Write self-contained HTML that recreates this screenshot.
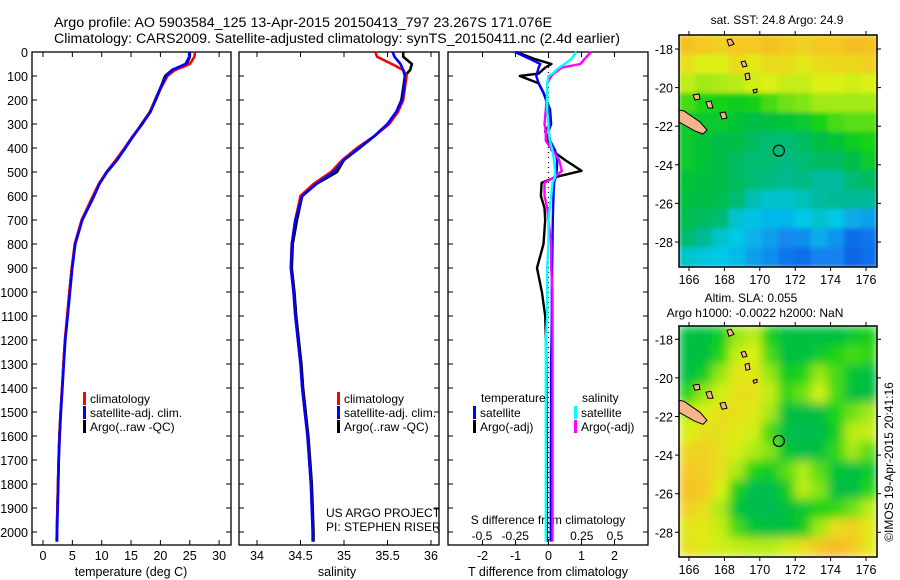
<!DOCTYPE html>
<html><head><meta charset="utf-8">
<style>
html,body{margin:0;padding:0;background:#fff;}
svg{display:block;font-family:"Liberation Sans",sans-serif;}
text{fill:#000;}
</style></head>
<body>
<svg id="fig" width="900" height="580" viewBox="0 0 900 580" xmlns="http://www.w3.org/2000/svg">
<defs>
  <filter id="blur1" x="0" y="0" width="1" height="1"><feGaussianBlur stdDeviation="2" edgeMode="duplicate"/></filter>
  <filter id="blur2" x="0" y="0" width="1" height="1"><feGaussianBlur stdDeviation="5" edgeMode="duplicate"/></filter>
  <clipPath id="clipM1"><rect x="679" y="35" width="198" height="232"/></clipPath>
  <clipPath id="clipM2"><rect x="679" y="326" width="198" height="231"/></clipPath>
</defs>
<text x="54" y="27" font-size="13.5" textLength="498" lengthAdjust="spacingAndGlyphs">Argo profile: AO 5903584_125 13-Apr-2015 20150413_797 23.267S 171.076E</text>
<text x="54" y="43" font-size="13.5" textLength="566" lengthAdjust="spacingAndGlyphs">Climatology: CARS2009. Satellite-adjusted climatology: synTS_20150411.nc (2.4d earlier)</text>
<g id="plots"></g>
</svg>
<script>
// ---------- profile data ----------
const depths = [0,20,50,75,100,150,200,250,300,350,400,450,500,550,600,700,800,900,1000,1100,1200,1300,1400,1500,1600,1700,1800,1900,2000,2040];
const argoT = [25.0,25.0,24.5,22.0,20.8,20.0,19.1,18.2,16.8,15.4,14.0,12.6,10.9,9.5,8.6,6.6,5.45,4.9,4.5,4.15,3.75,3.5,3.25,3.0,2.8,2.65,2.55,2.45,2.35,2.35];
const climT = [25.9,25.8,25.0,22.5,21.2,20.1,19.2,18.2,16.9,15.3,13.9,12.4,10.8,9.5,8.5,6.6,5.4,4.9,4.5,4.1,3.75,3.5,3.25,3.0,2.8,2.65,2.55,2.45,2.35,2.3];
const satT = [24.9,24.9,24.3,22.0,21.0,20.0,19.2,18.3,16.9,15.4,14.0,12.6,10.9,9.6,8.7,6.7,5.5,5.0,4.6,4.2,3.8,3.55,3.3,3.05,2.85,2.7,2.6,2.5,2.4,2.4];
const argoS = [35.68,35.68,35.78,35.76,35.70,35.68,35.66,35.60,35.50,35.35,35.18,35.00,34.92,34.68,34.52,34.46,34.41,34.40,34.43,34.45,34.48,34.51,34.53,34.56,34.59,34.61,34.63,34.64,34.65,34.65];
const climS = [35.36,35.38,35.55,35.68,35.72,35.70,35.68,35.62,35.52,35.35,35.15,34.98,34.85,34.65,34.50,34.44,34.40,34.39,34.42,34.44,34.47,34.50,34.52,34.55,34.58,34.60,34.62,34.63,34.64,34.64];
const satS = [35.56,35.58,35.65,35.68,35.70,35.69,35.67,35.60,35.50,35.35,35.17,35.00,34.88,34.68,34.52,34.44,34.40,34.39,34.42,34.44,34.47,34.50,34.52,34.55,34.58,34.60,34.62,34.63,34.64,34.64];
// ---------- difference data ----------
const diffDepth = [0,30,50,65,90,100,130,170,240,300,330,370,410,450,495,520,545,600,650,700,800,900,1000,1100,1200,1300,1500,1700,1900,2040];
const argoTd = [-0.97,-0.4,0.09,-0.1,-0.3,-0.87,-0.3,-0.15,0.03,0.05,-0.1,0.0,0.1,0.5,1.0,0.24,-0.21,-0.23,-0.12,-0.1,-0.15,-0.35,-0.2,-0.1,-0.08,-0.07,-0.06,-0.05,-0.05,-0.05];
const satTd = [-1.02,-0.55,-0.25,-0.3,-0.35,-0.37,-0.3,-0.15,0.05,0.08,0.0,0.05,0.2,0.26,0.25,0.22,0.17,0.15,0.14,0.13,0.12,0.11,0.1,0.1,0.09,0.08,0.08,0.07,0.07,0.07];
const argoSd = [0.32,0.27,0.24,0.1,0.04,0.02,-0.01,-0.01,-0.02,-0.03,-0.02,-0.02,0.03,0.08,0.1,0.05,-0.03,-0.03,-0.01,0.0,0.02,0.02,0.03,0.03,0.03,0.03,0.03,0.03,0.03,0.03];
const satSd = [0.21,0.17,0.12,0.08,0.03,0.0,-0.01,-0.01,-0.01,0.0,0.0,0.01,0.03,0.04,0.05,0.05,0.03,0.02,0.01,0.0,0.0,-0.01,-0.01,-0.01,-0.02,-0.02,-0.02,-0.02,-0.02,-0.02];
// ---------- ticks ----------
const depthTicks = [0,100,200,300,400,500,600,700,800,900,1000,1100,1200,1300,1400,1500,1600,1700,1800,1900,2000];
const tempTicks = [0,5,10,15,20,25,30];
const salTicks = [34,34.5,35,35.5,36];
const tdiffTicks = [-2,-1,0,1,2];
const sdiffTicks = [-0.5,-0.25,0,0.25,0.5];
const sdiffTickLabels = ["-0.5","-0.25","0","0.25","0.5"];
const lonTicks = [166,168,170,172,174,176];
const latTicks = [-18,-20,-22,-24,-26,-28];
// ---------- map fields (rows N->S, cols W->E, 0=cold/low 1=warm/high) ----------
const sstField = [
 [.92,.9,.88,.9,.9,.92,.9,.88,.9,.9,.93,.92],
 [.84,.8,.8,.85,.82,.85,.85,.82,.85,.86,.86,.88],
 [.75,.7,.72,.74,.78,.8,.76,.76,.8,.8,.78,.8],
 [.6,.56,.55,.52,.55,.6,.64,.66,.7,.7,.7,.7],
 [.5,.5,.5,.48,.45,.46,.48,.5,.55,.6,.62,.62],
 [.5,.48,.45,.45,.42,.4,.4,.42,.45,.48,.52,.55],
 [.5,.48,.45,.42,.4,.4,.38,.4,.42,.42,.45,.5],
 [.48,.46,.45,.42,.4,.38,.37,.38,.35,.35,.4,.42],
 [.46,.45,.44,.4,.33,.3,.3,.32,.35,.36,.36,.36],
 [.44,.42,.4,.3,.26,.24,.24,.27,.3,.27,.22,.2],
 [.4,.36,.3,.27,.23,.2,.16,.17,.22,.18,.1,.12],
 [.3,.28,.27,.25,.2,.17,.12,.1,.15,.15,.08,.1]];
const slaField = [
 [.46,.46,.52,.68,.74,.54,.46,.46,.46,.46,.5,.54],
 [.45,.46,.56,.76,.8,.6,.46,.46,.5,.56,.6,.58],
 [.46,.52,.68,.82,.82,.68,.52,.56,.68,.6,.48,.46],
 [.56,.68,.78,.84,.84,.76,.58,.64,.78,.6,.46,.46],
 [.74,.8,.84,.84,.82,.7,.47,.45,.46,.56,.64,.7],
 [.8,.84,.84,.82,.78,.6,.45,.44,.45,.52,.74,.76],
 [.86,.88,.84,.78,.72,.66,.48,.45,.46,.58,.7,.62],
 [.9,.88,.84,.72,.56,.52,.62,.72,.62,.48,.46,.5],
 [.92,.9,.8,.54,.44,.44,.52,.74,.66,.46,.45,.56],
 [.88,.84,.72,.48,.44,.44,.46,.5,.56,.58,.64,.74],
 [.82,.82,.76,.6,.48,.46,.46,.52,.7,.84,.88,.82],
 [.84,.82,.78,.76,.74,.74,.78,.84,.9,.94,.9,.82]];
const floatLon = 171.076, floatLat = -23.267;

const NS = "http://www.w3.org/2000/svg";
const root = document.getElementById('plots');
function el(tag, attrs, parent){ const e=document.createElementNS(NS,tag); for(const k in attrs) e.setAttribute(k,attrs[k]); (parent||root).appendChild(e); return e; }
function txt(s, x, y, size, anchor, parent){ const t=el('text',{x:x,y:y,'font-size':size,'text-anchor':anchor||'start'},parent); t.textContent=s; return t; }

const yTop=52, pxPerM=0.24, yBot=545;
const yD = d => yTop + d*pxPerM;

function frame(x0,x1,name){
  const r = el('rect',{x:x0,y:yTop,width:x1-x0,height:yBot-yTop,fill:'none',stroke:'#000','stroke-width':1.3});
  
  
  depthTicks.forEach(d=>{
    el('line',{x1:x0,x2:x0+5,y1:yD(d),y2:yD(d),stroke:'#000'});
    el('line',{x1:x1-5,x2:x1,y1:yD(d),y2:yD(d),stroke:'#000'});
  });
}
function profile(xs, ds, xf, color, name, w){
  const pts = xs.map((v,i)=> xf(v).toFixed(1)+','+yD(ds[i]).toFixed(1)).join(' ');
  const p = el('polyline',{points:pts,fill:'none',stroke:color,'stroke-width':w||2.6,'stroke-linejoin':'round'});
  
  
}
function legendEntry(x,y,color,label,name){
  const g = el('g',{});
  
  
  el('rect',{x:x,y:y-6,width:3,height:13,fill:color},g);
  txt(label,x+7,y+5,12,'start',g);
}

// ---------- panel 1 ----------
const xT = t => 43 + t*5.87;
frame(32,231,'temperature-panel-frame');
depthTicks.forEach(d=>{ const t=txt(String(d),28,yD(d)+5,12.5,'end');   });
tempTicks.forEach(v=>{
  el('line',{x1:xT(v),x2:xT(v),y1:yTop,y2:yTop+5,stroke:'#000'});
  el('line',{x1:xT(v),x2:xT(v),y1:yBot-5,y2:yBot,stroke:'#000'});
  const t=txt(String(v),xT(v),560,12.5,'middle');
  
  
});
{ const t=txt('temperature (deg C)',131,576,12.5,'middle');   }
profile(argoT,depths,xT,'#000','argo-temperature-line');
profile(climT,depths,xT,'#f00','climatology-temperature-line');
profile(satT,depths,xT,'#00f','satellite-temperature-line');
legendEntry(83,398,'#f00','climatology','legend-climatology');
legendEntry(83,412,'#00f','satellite-adj. clim.','legend-satellite-adj');
legendEntry(83,426,'#000','Argo(..raw -QC)','legend-argo');

// ---------- panel 2 ----------
const xS = s => 257 + (s-34)*87;
frame(239,439,'salinity-panel-frame');
salTicks.forEach(v=>{
  el('line',{x1:xS(v),x2:xS(v),y1:yTop,y2:yTop+5,stroke:'#000'});
  el('line',{x1:xS(v),x2:xS(v),y1:yBot-5,y2:yBot,stroke:'#000'});
  const t=txt(String(v),xS(v),560,12.5,'middle');
  
  
});
{ const t=txt('salinity',337,576,12.5,'middle');   }
profile(argoS,depths,xS,'#000','argo-salinity-line');
profile(climS,depths,xS,'#f00','climatology-salinity-line');
profile(satS,depths,xS,'#00f','satellite-salinity-line');
legendEntry(337,398,'#f00','climatology','legend-climatology-sal');
legendEntry(337,412,'#00f','satellite-adj. clim.','legend-satellite-adj-sal');
legendEntry(337,426,'#000','Argo(..raw -QC)','legend-argo-sal');
{ const t=txt('US ARGO PROJECT',326,517,12);   }
{ const t=txt('PI: STEPHEN RISER',326,531,12);   }

// ---------- panel 3 ----------
const x0d = 548.5;
const xTd = t => x0d + t*33;
const xSd = s => x0d + s*133;
frame(448,648,'difference-panel-frame');
tdiffTicks.forEach(v=>{
  el('line',{x1:xTd(v),x2:xTd(v),y1:yTop,y2:yTop+5,stroke:'#000'});
  el('line',{x1:xTd(v),x2:xTd(v),y1:yBot-5,y2:yBot,stroke:'#000'});
  const t=txt(String(v),xTd(v),560,12.5,'middle');
  
  
});
sdiffTicks.forEach((v,i)=>{
  const t=txt(sdiffTickLabels[i],xSd(v),540,12,'middle');
  
  
});
{ const t=txt('S difference from climatology',548,524,12,'middle');   }
{ const t=txt('T difference from climatology',548,576,12.5,'middle');   }
{ const z=el('line',{x1:x0d,x2:x0d,y1:yD(0),y2:yD(2040),stroke:'#000','stroke-width':1.2,'stroke-dasharray':'1,4'});   }
profile(argoTd,diffDepth,xTd,'#000','argo-tdiff-line',2.4);
profile(satTd,diffDepth,xTd,'#00f','satellite-tdiff-line',2.4);
profile(argoSd,diffDepth,xSd,'#f0f','argo-sdiff-line',2.4);
profile(satSd,diffDepth,xSd,'#0ff','satellite-sdiff-line',2.4);
{ const t=txt('temperature',481,402,12);   }
{ const t=txt('salinity',582,402,12);   }
legendEntry(473,412,'#00f','satellite','legend-tdiff-satellite');
legendEntry(473,426,'#000','Argo(-adj)','legend-tdiff-argo');
legendEntry(574,412,'#0ff','satellite','legend-sdiff-satellite');
legendEntry(574,426,'#f0f','Argo(-adj)','legend-sdiff-argo');

// ---------- maps ----------
const cmapStops = [[0,[0,70,220]],[0.15,[20,130,240]],[0.27,[0,200,230]],[0.36,[0,185,150]],[0.45,[0,190,70]],[0.55,[20,210,20]],[0.68,[150,232,20]],[0.8,[220,240,20]],[0.9,[245,200,35]],[1,[245,165,40]]];
function cmap(v){
  for(let i=1;i<cmapStops.length;i++){
    if(v<=cmapStops[i][0]){
      const [a,ca]=cmapStops[i-1],[b,cb]=cmapStops[i]; const f=(v-a)/(b-a);
      return 'rgb('+ca.map((c,k)=>Math.round(c+(cb[k]-c)*f)).join(',')+')';
    }
  }
  return 'rgb(245,165,40)';
}
const mapX0=679, mapX1=877, lonPx=17.7, lon166=689;
const xLon = l => lon166 + (l-166)*lonPx;
function drawMap(field, top, bottom, lat18, clipId, blurId, name){
  const g = el('g',{'clip-path':'url(#'+clipId+')'});
  
  
  const yLat = la => lat18 + (-18-la)*19.3;
  const inner = el('g',{filter:'url(#'+blurId+')'},g);
  const rows=field.length, cols=field[0].length;
  const cw=(mapX1-mapX0)/cols, ch=(bottom-top)/rows;
  field.forEach((row,r)=>row.forEach((v,c)=>{
    const cell = el('rect',{x:mapX0+c*cw,y:top+r*ch,width:cw+0.6,height:ch+0.6,fill:cmap(v)},inner);
    
    
  }));
  const o = lat18;
  const isl = [
    [[679,o+61],[684,o+62],[700,o+73],[707,o+81],[703,o+85],[695,o+82],[679,o+73]],
    [[727,o-9],[731,o-10],[734,o-5],[729,o-3]],
    [[741,o+13],[745,o+12],[747,o+17],[743,o+18]],
    [[745,o+25],[749,o+24],[750,o+30],[746,o+31]],
    [[753,o+41],[757,o+40],[757,o+43],[754,o+44]],
    [[693,o+46],[699,o+45],[700,o+50],[695,o+51]],
    [[706,o+53],[711,o+52],[713,o+59],[708,o+59]],
    [[720,o+64],[725,o+63],[727,o+69],[722,o+70]]
  ];
  isl.forEach(p=>{
    const s = el('polygon',{points:p.map(q=>q.join(',')).join(' '),fill:'#f5b48c',stroke:'#000','stroke-width':1},g);
    
    
  });
  const fc = el('circle',{cx:xLon(floatLon),cy:yLat(floatLat),r:5.5,fill:'none',stroke:'#000','stroke-width':1.2},g);
  
  
  const fr = el('rect',{x:mapX0,y:top,width:mapX1-mapX0,height:bottom-top,fill:'none',stroke:'#000','stroke-width':1.5});
  
  
  lonTicks.forEach(l=>{
    el('line',{x1:xLon(l),x2:xLon(l),y1:top-4,y2:top,stroke:'#000'});
    el('line',{x1:xLon(l),x2:xLon(l),y1:bottom,y2:bottom+4,stroke:'#000'});
    const t=txt(String(l),xLon(l),bottom+17,12.5,'middle');
    
    
  });
  latTicks.forEach(la=>{
    el('line',{x1:mapX0-4,x2:mapX0,y1:yLat(la),y2:yLat(la),stroke:'#000'});
    el('line',{x1:mapX1,x2:mapX1+4,y1:yLat(la),y2:yLat(la),stroke:'#000'});
    const t=txt(String(la),673,yLat(la)+5,12.5,'end');
    
    
  });
}
drawMap(sstField,35,267,49,'clipM1','blur1','sst-map');
drawMap(slaField,326,557,339.3,'clipM2','blur2','sla-map');
{ const t=txt('sat. SST: 24.8 Argo: 24.9',777,24,12,'middle');   }
{ const t=txt('Altim. SLA: 0.055',751,302,12,'middle');   }
{ const t=txt('Argo h1000: -0.0022 h2000: NaN',755,317,12,'middle');   }
{ const t=txt('©IMOS 19-Apr-2015 20:41:16',0,0,12,'middle'); t.setAttribute('transform','translate(893,462) rotate(-90)');   }
</script>
</body></html>
